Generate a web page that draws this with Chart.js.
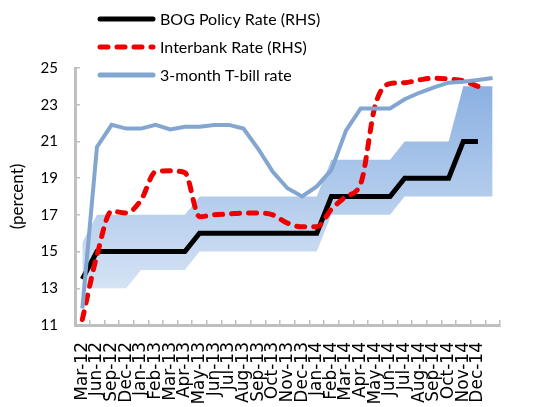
<!DOCTYPE html>
<html>
<head>
<meta charset="utf-8">
<script src="https://cdn.jsdelivr.net/npm/chart.js@4.4.1/dist/chart.umd.min.js"></script>
<style>
  html, body { margin: 0; padding: 0; background: #fff; }
  #wrap { width: 535px; height: 407px; }
</style>
</head>
<body>
<div id="wrap"><canvas id="rateChart" width="535" height="407"></canvas></div>
<script>
// Data
const months = ['Mar-12', 'Jun-12', 'Sep-12', 'Dec-12', 'Jan-13', 'Feb-13', 'Mar-13', 'Apr-13',
  'May-13', 'Jun-13', 'Jul-13', 'Aug-13', 'Sep-13', 'Oct-13', 'Nov-13', 'Dec-13',
  'Jan-14', 'Feb-14', 'Mar-14', 'Apr-14', 'May-14', 'Jun-14', 'Jul-14', 'Aug-14',
  'Sep-14', 'Oct-14', 'Nov-14', 'Dec-14', ''];

const policyRate = [13.5, 15, 15, 15, 15, 15, 15, 15, 16, 16, 16, 16, 16, 16, 16, 16,
  16, 18, 18, 18, 18, 18, 19, 19, 19, 19, 21, 21, null];

const interbankRate = [11.3, 14.8, 17.2, 17.1, 17.8, 19.35, 19.4, 19.3, 16.9, 17.0, 17.05, 17.1,
  17.1, 17.0, 16.55, 16.35, 16.35, 17.3, 18.0, 18.7, 23.0, 24.15, 24.2, 24.35, 24.45, 24.4,
  24.3, 24.0, null];

const tbillRate = [11.9, 20.7, 21.9, 21.7, 21.7, 21.9, 21.65, 21.8, 21.8, 21.9, 21.9, 21.7,
  20.6, 19.35, 18.45, 18.0, 18.55, 19.45, 21.6, 22.8, 22.8, 22.8, 23.3, 23.65, 23.95,
  24.2, 24.25, 24.35, 24.45];

const bandLow = [13, 13, 13, 13, 14, 14, 14, 14, 15, 15, 15, 15, 15, 15, 15, 15, 15,
  17, 17, 17, 17, 17, 18, 18, 18, 18, 18, 18, 18];
const bandHigh = [15.5, 17, 17, 17, 17, 17, 17, 17, 18, 18, 18, 18, 18, 18, 18, 18, 18,
  20, 20, 20, 20, 20, 21, 21, 21, 21, 24, 24, 24];

const AXIS_GREY = '#bfbfbf';

function bandFill(context) {
  const chart = context.chart;
  const area = chart.chartArea;
  if (!area) return 'rgba(170,200,235,1)';
  const g = chart.ctx.createLinearGradient(0, area.top, 0, area.bottom);
  g.addColorStop(0, 'rgb(132,172,224)');
  g.addColorStop(1, 'rgb(226,236,248)');
  return g;
}

// legend stacked in the top-left corner, over the plot like the Excel one
const cornerLegend = {
  id: 'cornerLegend',
  afterDraw(chart) {
    const ctx = chart.ctx;
    const rows = chart.data.datasets.filter(d => d.inLegend);
    ctx.save();
    rows.forEach((ds, i) => {
      const y = 19 + i * 28;
      ctx.beginPath();
      ctx.lineWidth = 5;
      ctx.lineCap = 'round';
      ctx.strokeStyle = ds.borderColor;
      ctx.setLineDash(ds.borderDash || []);
      ctx.moveTo(100, y);
      ctx.lineTo(153, y);
      ctx.stroke();
      ctx.setLineDash([]);
      ctx.fillStyle = '#000';
      ctx.font = '16px Lato';
      ctx.textBaseline = 'middle';
      ctx.fillText(ds.label, 160, y + 1);
    });
    ctx.restore();
  }
};

new Chart(document.getElementById('rateChart'), {
  type: 'line',
  data: {
    labels: months,
    datasets: [{
      label: 'BOG Policy Rate (RHS)',
      inLegend: true,
      data: policyRate,
      borderColor: '#000000',
      borderWidth: 5,
      pointRadius: 0,
      fill: false,
      order: 2
    }, {
      label: 'Interbank Rate (RHS)',
      inLegend: true,
      data: interbankRate,
      borderColor: '#ee0000',
      borderWidth: 5,
      borderDash: [8, 9],
      borderCapStyle: 'round',
      cubicInterpolationMode: 'monotone',
      pointRadius: 0,
      fill: false,
      order: 1
    }, {
      label: '3-month T-bill rate',
      inLegend: true,
      data: tbillRate,
      borderColor: '#82a6d0',
      borderWidth: 4,
      pointRadius: 0,
      fill: false,
      order: 0
    }, {
      label: 'band low',
      data: bandLow,
      borderWidth: 0,
      pointRadius: 0,
      fill: false,
      order: 4
    }, {
      label: 'band high',
      data: bandHigh,
      borderWidth: 0,
      pointRadius: 0,
      backgroundColor: bandFill,
      fill: '-1',
      order: 3
    }]
  },
  options: {
    responsive: false,
    animation: false,
    devicePixelRatio: 1,
    layout: { padding: { top: 68, right: 1, bottom: 0, left: 0 } },
    plugins: {
      legend: { display: false },
      tooltip: { enabled: false }
    },
    scales: {
      x: {
        type: 'category',
        offset: true,
        grid: {
          offset: true,
          drawOnChartArea: false,
          drawTicks: true,
          tickLength: -5,
          color: AXIS_GREY,
          lineWidth: 1.5
        },
        border: { color: AXIS_GREY, width: 3 },
        ticks: {
          autoSkip: false,
          minRotation: 90,
          maxRotation: 90,
          padding: 22,
          color: '#000',
          font: { family: 'DejaVu Sans', size: 17 }
        },
        afterFit(scale) { scale.height = 82; }
      },
      y: {
        min: 11,
        max: 25,
        grid: {
          drawOnChartArea: false,
          drawTicks: true,
          tickLength: -5,
          color: AXIS_GREY,
          lineWidth: 1.5
        },
        border: { color: AXIS_GREY, width: 3 },
        ticks: {
          stepSize: 2,
          padding: 22,
          color: '#000',
          font: { family: 'Lato', size: 15 }
        },
        title: {
          display: true,
          text: '(percent)',
          color: '#000',
          font: { family: 'Lato', size: 17 },
          padding: { top: 7, bottom: 0 }
        },
        afterFit(scale) { scale.width = 75; }
      }
    }
  },
  plugins: [cornerLegend]
});
</script>
</body>
</html>
